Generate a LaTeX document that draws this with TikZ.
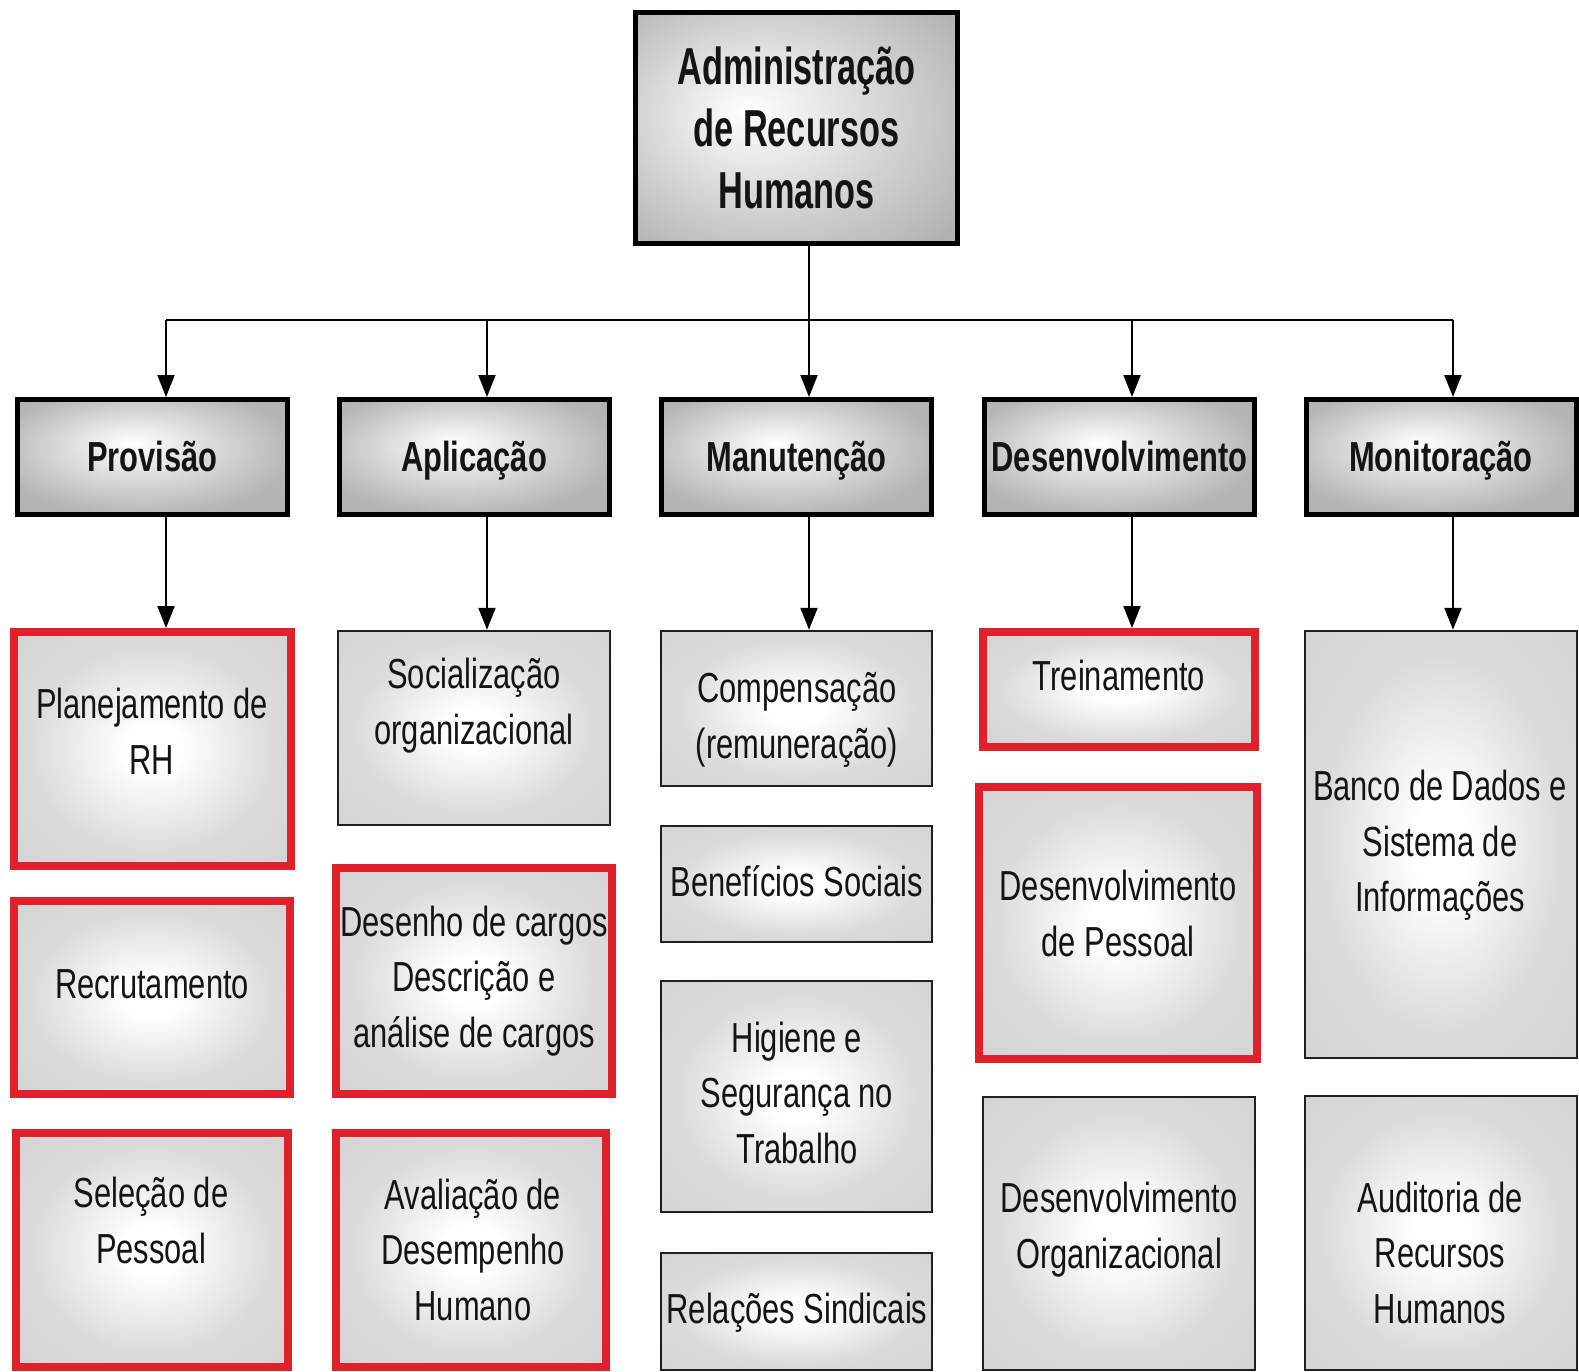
\documentclass[tikz,border=0pt]{standalone}
\usepackage{fontspec}
\setmainfont{Liberation Sans}
\newfontfamily\topfont[FakeStretch=0.66]{Liberation Sans Bold}
\newfontfamily\headfont[FakeStretch=0.735]{Liberation Sans Bold}
\newfontfamily\bodyfont[FakeStretch=0.735]{Liberation Sans}
\usetikzlibrary{arrows.meta}
\definecolor{hl}{HTML}{E0202A}
\pgfdeclareradialshading{bodyglow}{\pgfpoint{0bp}{0bp}}{color(0bp)=(white); color(5bp)=(white); color(22bp)=(black!14); color(36bp)=(black!17); color(50bp)=(black!17)}
\pgfdeclareradialshading{headglow}{\pgfpoint{-4bp}{6bp}}{color(0bp)=(white); color(28bp)=(black!29); color(50bp)=(black!33)}
\pgfdeclareradialshading{topglow}{\pgfpoint{-8bp}{4bp}}{color(0bp)=(white); color(35bp)=(black!30); color(50bp)=(black!33)}
\newcommand\sr{\rule[-0.2em]{0pt}{1.1em}}
\tikzset{
  topbox/.style={draw=black, line width=5pt, shading=topglow, inner sep=0pt, align=center,
    font=\topfont\fontsize{52}{62}\selectfont, text=black!92},
  headbox/.style={draw=black, line width=5pt, shading=headglow, inner sep=0pt,
    minimum width=270pt, minimum height=115pt, font=\headfont\fontsize{42}{50}\selectfont, text=black!92},
  bodybox/.style={draw=black!88, line width=2.5pt, shading=bodyglow, inner sep=0pt},
  redbox/.style={bodybox, draw=hl, line width=8pt},
  txt/.style={font=\bodyfont\fontsize{42}{55.5}\selectfont, align=center, inner sep=0pt, text=black!92},
  conn/.style={line width=2pt, draw=black},
  arr/.style={conn, -{Triangle[length=22pt,width=17pt]}},
}
\begin{document}
\begin{tikzpicture}[x=1pt,y=-1pt]
\useasboundingbox (0,0) rectangle (1579,1372);
\fill[white] (0,0) rectangle (1579,1372);

% top
\node[topbox, minimum width=322pt, minimum height=231pt] (top) at (796.5,128)
  {\sr Administração\\\sr de Recursos\\\sr Humanos};

% headers
\node[headbox] (h1) at (152.5,457) {\sr Provisão};
\node[headbox] (h2) at (474,457) {\sr Aplicação};
\node[headbox] (h3) at (796.5,457) {\sr Manutenção};
\node[headbox] (h4) at (1119.5,457) {\sr Desenvolvimento};
\node[headbox] (h5) at (1441,457) {\sr Monitoração};

% column 1
\node[redbox, minimum width=277pt, minimum height=234pt] (c11) at (152.5,749) {};
\node[txt] (t11) at (152,732) {\sr Planejamento de\\\sr RH};
\node[redbox, minimum width=276pt, minimum height=193pt] (c12) at (152,997.5) {};
\node[txt] (t12) at (152,984) {\sr Recrutamento};
\node[redbox, minimum width=272pt, minimum height=234pt] (c13) at (152,1250) {};
\node[txt] (t13) at (151,1221) {\sr Seleção de\\\sr Pessoal};

% column 2
\node[bodybox, minimum width=272pt, minimum height=194pt] (c21) at (474,728) {};
\node[txt] (t21) at (474,702) {\sr Socialização\\\sr organizacional};
\node[redbox, minimum width=276pt, minimum height=226pt] (c22) at (474,981) {};
\node[txt] (t22) at (474,977) {\sr Desenho de cargos\\\sr Descrição e\\\sr análise de cargos};
\node[redbox, minimum width=270pt, minimum height=234pt] (c23) at (471,1250) {};
\node[txt] (t23) at (473,1250) {\sr Avaliação de\\\sr Desempenho\\\sr Humano};

% column 3
\node[bodybox, minimum width=271pt, minimum height=155pt] (c31) at (796.5,708.5) {};
\node[txt] (t31) at (797,716) {\sr Compensação\\\sr (remuneração)};
\node[bodybox, minimum width=271pt, minimum height=116pt] (c32) at (796.5,884) {};
\node[txt] (t32) at (797,882) {\sr Benefícios Sociais};
\node[bodybox, minimum width=271pt, minimum height=231pt] (c33) at (796.5,1096.5) {};
\node[txt] (t33) at (797,1093) {\sr Higiene e\\\sr Segurança no\\\sr Trabalho};
\node[bodybox, minimum width=271pt, minimum height=117pt] (c34) at (796.5,1311.5) {};
\node[txt] (t34) at (797,1309) {\sr Relações Sindicais};

% column 4
\node[redbox, minimum width=272pt, minimum height=115pt] (c41) at (1119,689.5) {};
\node[txt] (t41) at (1119,676) {\sr Treinamento};
\node[redbox, minimum width=278pt, minimum height=272pt] (c42) at (1118,923) {};
\node[txt] (t42) at (1118,914) {\sr Desenvolvimento\\\sr de Pessoal};
\node[bodybox, minimum width=272pt, minimum height=273pt] (c43) at (1119,1233.5) {};
\node[txt] (t43) at (1119,1226) {\sr Desenvolvimento\\\sr Organizacional};

% column 5
\node[bodybox, minimum width=272pt, minimum height=427pt] (c51) at (1441,844.5) {};
\node[txt] (t51) at (1440,842) {\sr Banco de Dados e\\\sr Sistema de\\\sr Informações};
\node[bodybox, minimum width=272pt, minimum height=274pt] (c52) at (1441,1233) {};
\node[txt] (t52) at (1440,1253) {\sr Auditoria de\\\sr Recursos\\\sr Humanos};

% connectors
\coordinate (b1) at (166,320);
\coordinate (b2) at (487,320);
\coordinate (b3) at (809,320);
\coordinate (b4) at (1132,320);
\coordinate (b5) at (1453,320);
\draw[conn] (top.south -| b3) -- (b3);
\draw[conn] (b1) -- (b5);
\foreach \k in {1,...,5} {
  \draw[arr] (b\k) -- (h\k.north -| b\k);
  \draw[arr] (h\k.south -| b\k) -- (c\k1.north -| b\k);
}
\end{tikzpicture}
\end{document}
